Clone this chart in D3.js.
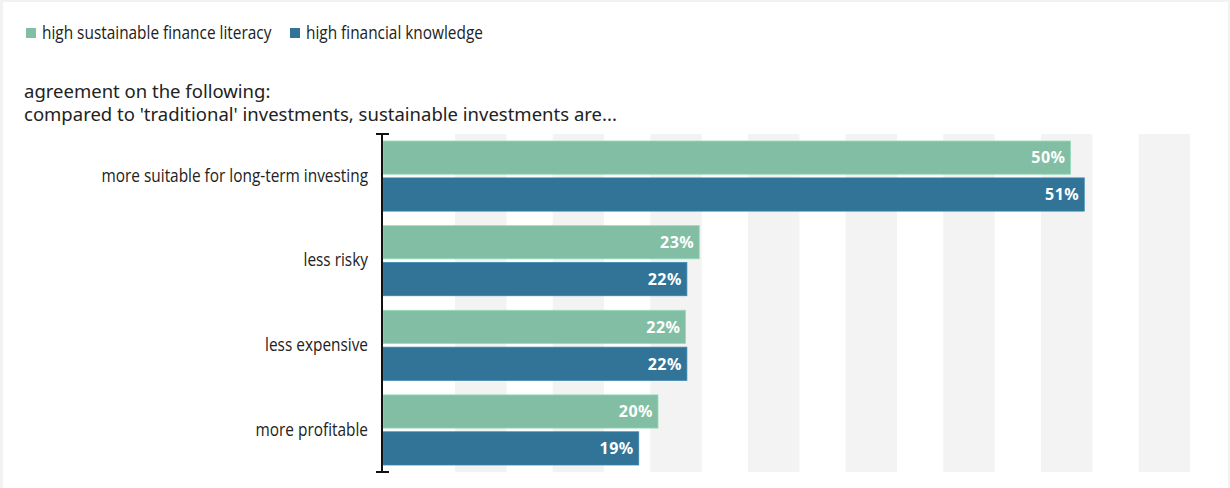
<!DOCTYPE html>
<html>
<head>
<meta charset="utf-8">
<script src="https://cdn.jsdelivr.net/npm/d3@7"></script>
<style>
  html, body { margin: 0; padding: 0; background: #f2f2f2; }
  svg { display: block; }
  .narrow { font-family: 'Open Sans', sans-serif; }
</style>
</head>
<body>
<svg id="chart" width="1230" height="488"></svg>
<script>
const categories = ["more suitable for long-term investing", "less risky", "less expensive", "more profitable"];
const seriesNames = ["high sustainable finance literacy", "high financial knowledge"];
const literacyValues = [50.0, 23.0, 22.0, 20.0];
const knowledgeValues = [51.0, 22.1, 22.1, 18.6];
const valueLabels = [["50%", "23%", "22%", "20%"], ["51%", "22%", "22%", "19%"]];
const subtitleLines = ["agreement on the following:", "compared to 'traditional' investments, sustainable investments are..."];
const colors = ["#82bea3", "#317497"];

const svg = d3.select("#chart");
const W = 1230, H = 488;
const normal = "'Noto Sans', 'Open Sans', sans-serif";
const squeeze = 0.88;

svg.append("rect").attr("x", 3).attr("y", 2).attr("width", W - 5).attr("height", H - 2).attr("fill", "#ffffff");

const plot = { left: 383, right: 1190, top: 134, bottom: 472 };

const x = d3.scaleLinear().domain([0, 50]).range([plot.left, plot.left + 687.5]);
const y = d3.scaleBand().domain(categories).range([plot.top, plot.bottom]).paddingInner(0.1716).paddingOuter(0.0828);
const ySub = d3.scaleBand().domain(seriesNames).range([0, y.bandwidth()]).paddingInner(0.1);

// background stripes
const stripeCount = 8, stripeStart = 455, stripeStep = 97.65, stripeW = 51.5;
svg.append("g").selectAll("rect").data(d3.range(stripeCount)).join("rect")
  .attr("x", i => stripeStart + i * stripeStep)
  .attr("y", plot.top)
  .attr("width", stripeW)
  .attr("height", plot.bottom - plot.top)
  .attr("fill", "#f3f3f3");

// legend
const legend = svg.append("g");
const legendX = [26, 290];
seriesNames.forEach((s, i) => {
  legend.append("rect").attr("x", legendX[i]).attr("y", 28).attr("width", 10).attr("height", 10).attr("fill", colors[i]);
  legend.append("text").attr("class", "narrow")
    .attr("transform", `translate(${legendX[i] + 16},39) scale(${squeeze},1)`)
    .attr("font-size", 17.5).attr("fill", "#222")
    .text(s);
});

// subtitle
subtitleLines.forEach((t, i) => {
  svg.append("text").attr("x", 24).attr("y", 98 + i * 23)
    .attr("font-family", normal).attr("font-size", 18.5).attr("fill", "#222")
    .text(t);
});

// bars
const series = [literacyValues, knowledgeValues];
series.forEach((vals, si) => {
  const g = svg.append("g");
  g.selectAll("rect").data(categories).join("rect")
    .attr("x", x(0))
    .attr("y", (c) => y(c) + ySub(seriesNames[si]))
    .attr("width", (c, i) => x(vals[i]) - x(0))
    .attr("height", ySub.bandwidth())
    .attr("fill", colors[si])
    .attr("stroke", d3.color(colors[si]).brighter(0.4))
    .attr("stroke-width", 0.8);
  g.selectAll("text").data(categories).join("text")
    .attr("x", (c, i) => x(vals[i]) - 5)
    .attr("y", (c) => y(c) + ySub(seriesNames[si]) + ySub.bandwidth() / 2)
    .attr("dy", "0.36em")
    .attr("text-anchor", "end")
    .attr("font-family", normal).attr("font-weight", "bold").attr("font-size", 16)
    .attr("letter-spacing", 0.5)
    .attr("fill", "#ffffff")
    .text((c, i) => valueLabels[si][i]);
});

// y axis
const yAxis = d3.axisLeft(y).tickSize(0).tickPadding(14 / squeeze);
const ax = svg.append("g").attr("transform", `translate(${plot.left - 1},0)`).call(yAxis);
ax.select(".domain").remove();
ax.selectAll("text").attr("class", "narrow").attr("font-family", null).attr("font-size", 17.5).attr("fill", "#222")
  .attr("transform", `scale(${squeeze},1)`);
ax.append("line").attr("x1", 0).attr("x2", 0).attr("y1", plot.top).attr("y2", plot.bottom).attr("stroke", "#111").attr("stroke-width", 2);
[plot.top, plot.bottom].forEach(v => {
  ax.append("line").attr("x1", -6).attr("x2", 7).attr("y1", v).attr("y2", v).attr("stroke", "#111").attr("stroke-width", 2);
});
</script>
</body>
</html>
